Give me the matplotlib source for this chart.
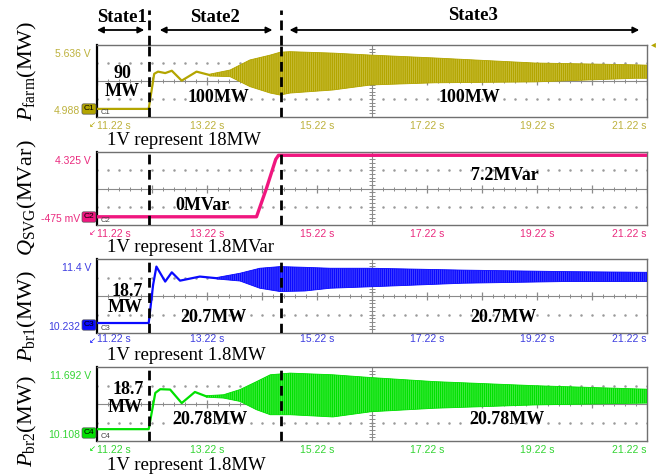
import matplotlib
matplotlib.use("Agg")
import matplotlib.pyplot as plt

plt.rcParams['font.family'] = ['Liberation Serif', 'DejaVu Serif']
plt.rcParams['mathtext.fontset'] = 'custom'
plt.rcParams['mathtext.rm'] = 'Liberation Serif'
plt.rcParams['mathtext.it'] = 'Liberation Serif:italic'
plt.rcParams['hatch.linewidth'] = 1.0

# ---- data (time in s, value in screen divisions) ----
time_ticks = [11.22, 13.22, 15.22, 17.22, 19.22, 21.22]
time_labels = ['11.22 s', '13.22 s', '15.22 s', '17.22 s', '19.22 s', '21.22 s']
state_bounds = [12.17, 14.56]

# P_farm
farm_t = [11.22, 12.16, 12.26, 12.33, 12.46, 12.58, 12.76, 13.03, 13.27]
farm_v = [-1.55, -1.55, 0.40, 0.52, 0.44, 0.57, 0.02, 0.52, 0.33]
farm_env_t = [13.27, 13.64, 14.0, 14.37, 14.55, 14.73, 15.51, 16.2, 17.36, 19.18, 21.0, 21.22]
farm_hi = [0.38, 0.61, 1.17, 1.44, 1.60, 1.63, 1.55, 1.44, 1.28, 1.00, 0.90, 0.88]
farm_lo = [0.28, 0.24, -0.31, -0.67, -0.78, -0.67, -0.50, -0.22, -0.10, -0.05, 0.15, 0.15]

# Q_SVG
svg_t = [11.22, 14.12, 14.30, 14.47, 14.52, 21.22]
svg_v = [-1.55, -1.55, 0.0, 1.60, 1.82, 1.82]

# P_br1
br1_t = [11.22, 12.16, 12.24, 12.30, 12.46, 12.58, 12.73, 13.09, 13.40]
br1_v = [-1.46, -1.46, 0.60, 1.59, 0.78, 1.28, 0.83, 1.05, 0.96]
br1_env_t = [13.40, 13.82, 14.18, 14.55, 15.0, 15.46, 16.21, 17.87, 19.69, 21.22]
br1_hi = [1.00, 1.23, 1.50, 1.59, 1.55, 1.50, 1.50, 1.40, 1.32, 1.28]
br1_lo = [0.92, 0.81, 0.42, 0.24, 0.27, 0.42, 0.50, 0.69, 0.78, 0.78]

# P_br2
br2_t = [11.22, 12.16, 12.28, 12.37, 12.55, 12.76, 13.00, 13.21]
br2_v = [-1.36, -1.36, 0.60, 0.80, 0.78, 0.05, 0.65, 0.41]
br2_env_t = [13.21, 13.52, 13.82, 14.12, 14.37, 14.73, 15.51, 16.2, 17.36, 19.18, 21.0, 21.22]
br2_hi = [0.45, 0.50, 0.78, 1.21, 1.58, 1.67, 1.58, 1.43, 1.21, 0.99, 0.82, 0.80]
br2_lo = [0.37, 0.32, 0.14, -0.31, -0.58, -0.58, -0.70, -0.42, -0.23, -0.05, 0.04, 0.05]

W, H = 669, 476


def fx(x):
    return x / W


def fy(y):
    return 1 - y / H


fig = plt.figure(figsize=(W / 100, H / 100), dpi=100)

panels = [
    dict(top=45, bot=117, color='#b3a500', fill='#cfc54a', lab='#bdb13c', ch='C1', pad=3,
         top_txt='5.636 V', bot_txt='4.988', ylabel='$P_{\\mathrm{farm}}$(MW)', ylab_y=71,
         t=farm_t, v=farm_v, et=farm_env_t, hi=farm_hi, lo=farm_lo),
    dict(top=152, bot=225, color='#f0167f', fill='#f35fa4', lab='#ea2a7e', ch='C2', pad=3,
         top_txt='4.325 V', bot_txt='-475 mV', ylabel='$Q_{\\mathrm{SVG}}$(MVar)', ylab_y=198,
         t=svg_t, v=svg_v, et=None, hi=None, lo=None),
    dict(top=259, bot=333, color='#0a0aff', fill='#5555ff', lab='#3d3de0', ch='C3', pad=1,
         top_txt='11.4 V', bot_txt='10.232', ylabel='$P_{\\mathrm{br1}}$(MW)', ylab_y=316,
         t=br1_t, v=br1_v, et=br1_env_t, hi=br1_hi, lo=br1_lo),
    dict(top=367, bot=441, color='#00e000', fill='#5aee5a', lab='#33d433', ch='C4', pad=3,
         top_txt='11.692 V', bot_txt='10.108', ylabel='$P_{\\mathrm{br2}}$(MW)', ylab_y=421,
         t=br2_t, v=br2_v, et=br2_env_t, hi=br2_hi, lo=br2_lo),
]

grid_c = '#8a8a8a'
axes = []
for p in panels:
    ax = fig.add_axes([fx(97), fy(p['bot']), fx(647) - fx(97), (p['bot'] - p['top']) / H])
    axes.append(ax)
    ax.set_xlim(11.22, 21.22)
    ax.set_ylim(-2, 2)
    for s in ax.spines.values():
        s.set_color('#707070')
        s.set_linewidth(1.0)
    ax.spines['left'].set_color('black')
    ax.spines['left'].set_linewidth(1.6)
    ax.set_yticks([])
    ax.set_xticks(time_ticks)
    ax.set_xticklabels(time_labels, family='Liberation Sans', fontsize=7.5, color=p['lab'])
    ax.tick_params(axis='x', length=0, pad=p['pad'])
    tl = ax.get_xticklabels()
    tl[0].set_ha('left')
    tl[-1].set_ha('right')

    # scope graticule
    xs = [11.22 + 0.2 * i for i in range(51)]
    ys = [-2 + 0.2 * i for i in range(21)]
    ax.axhline(0, color=grid_c, lw=0.8, zorder=1)
    ax.axvline(16.22, color=grid_c, lw=0.8, zorder=1)
    for yy in (-1, 1):
        ax.plot(xs, [yy] * len(xs), ls='none', marker='.', ms=1.6, color='#9a9a9a', zorder=1)
    ax.plot(xs, [0] * len(xs), ls='none', marker='|', ms=3, mew=0.7, color=grid_c, zorder=1)
    ax.plot(xs[::5], [0] * len(xs[::5]), ls='none', marker='|', ms=6, mew=0.9, color=grid_c, zorder=1)
    ax.plot([16.22] * len(ys), ys, ls='none', marker='_', ms=5, mew=0.7, color=grid_c, zorder=1)

    # signals
    lw_sig = 2.4 if p['et'] is None else 1.6
    ax.plot(p['t'], p['v'], color=p['color'], lw=lw_sig, zorder=3)
    if p['et'] is not None:
        ax.fill_between(p['et'], p['lo'], p['hi'], facecolor=p['fill'], edgecolor=p['color'],
                        hatch='||||||||', lw=0.6, zorder=3)

    for b in state_bounds:
        ax.axvline(b, color='black', ls=(0, (3.5, 2)), lw=2, zorder=5)

    # left labels
    fig.text(fx(91), fy(p['top'] + 9), p['top_txt'], family='Liberation Sans', fontsize=7.5,
             color=p['lab'], ha='right', va='center')
    fig.text(fx(80), fy(p['bot'] - 6), p['bot_txt'], family='Liberation Sans', fontsize=7.5,
             color=p['lab'], ha='right', va='center')
    fig.text(fx(89), fy(p['bot'] - 8), p['ch'], family='Liberation Sans', fontsize=6,
             color='black', ha='center', va='center',
             bbox=dict(boxstyle='round,pad=0.2', fc=p['color'], ec='#555555', lw=0.5))
    fig.text(fx(101), fy(p['bot'] - 5), p['ch'], family='Liberation Sans', fontsize=5.5,
             color='#444444', ha='left', va='center')
    fig.text(fx(92), fy(p['bot'] + 8), '\u2199', family='DejaVu Sans', fontsize=6,
             color=p['color'], ha='center', va='center')
    fig.text(fx(27), fy(p['ylab_y']), p['ylabel'], fontsize=16, rotation=90,
             ha='center', va='center')

ax1 = axes[0]
# dashed lines and state arrows above the first panel
for b in state_bounds:
    ax1.plot([b, b], [2, 3.95], color='black', ls=(0, (3.5, 2)), lw=2, clip_on=False, zorder=5)
arrow_kw = dict(arrowstyle='<|-|>', color='black', lw=1.3, mutation_scale=9)
y_arr = 2 + 15 / 18
ax1.annotate('', xy=(12.13, y_arr), xytext=(11.17, y_arr), arrowprops=arrow_kw, annotation_clip=False)
ax1.annotate('', xy=(14.46, y_arr), xytext=(12.31, y_arr), arrowprops=arrow_kw, annotation_clip=False)
ax1.annotate('', xy=(21.13, y_arr), xytext=(14.67, y_arr), arrowprops=arrow_kw, annotation_clip=False)

bold = dict(fontsize=13.5, fontweight='bold', ha='center', va='center')
fig.text(fx(122), fy(17), 'State1', **bold)
fig.text(fx(215), fy(17), 'State2', **bold)
fig.text(fx(473), fy(15), 'State3', **bold)

inner = dict(fontsize=13, fontweight='bold', ha='center', va='center')
fig.text(fx(122), fy(74), '90', **inner)
fig.text(fx(122), fy(91), 'MW', **inner)
fig.text(fx(218), fy(98), '100MW', **inner)
fig.text(fx(469), fy(98), '100MW', **inner)
fig.text(fx(202), fy(206), '0MVar', **inner)
fig.text(fx(505), fy(176), '7.2MVar', **inner)
fig.text(fx(127), fy(291), '18.7', **inner)
fig.text(fx(125), fy(307), 'MW', **inner)
fig.text(fx(213), fy(318), '20.7MW', **inner)
fig.text(fx(503), fy(317), '20.7MW', **inner)
fig.text(fx(128), fy(390), '18.7', **inner)
fig.text(fx(125), fy(408), 'MW', **inner)
fig.text(fx(210), fy(420), '20.78MW', **inner)
fig.text(fx(507), fy(420), '20.78MW', **inner)

scale_kw = dict(fontsize=13.5, ha='left', va='center')
fig.text(fx(107), fy(140), '1V represent 18MW', **scale_kw)
fig.text(fx(107), fy(247), '1V represent 1.8MVar', **scale_kw)
fig.text(fx(107), fy(355), '1V represent 1.8MW', **scale_kw)
fig.text(fx(107), fy(465), '1V represent 1.8MW', **scale_kw)

fig.text(fx(653), fy(44), '\u25c2', family='DejaVu Sans', fontsize=7, color=panels[0]['color'],
         ha='center', va='center')

fig.savefig('out.png', dpi=100)
